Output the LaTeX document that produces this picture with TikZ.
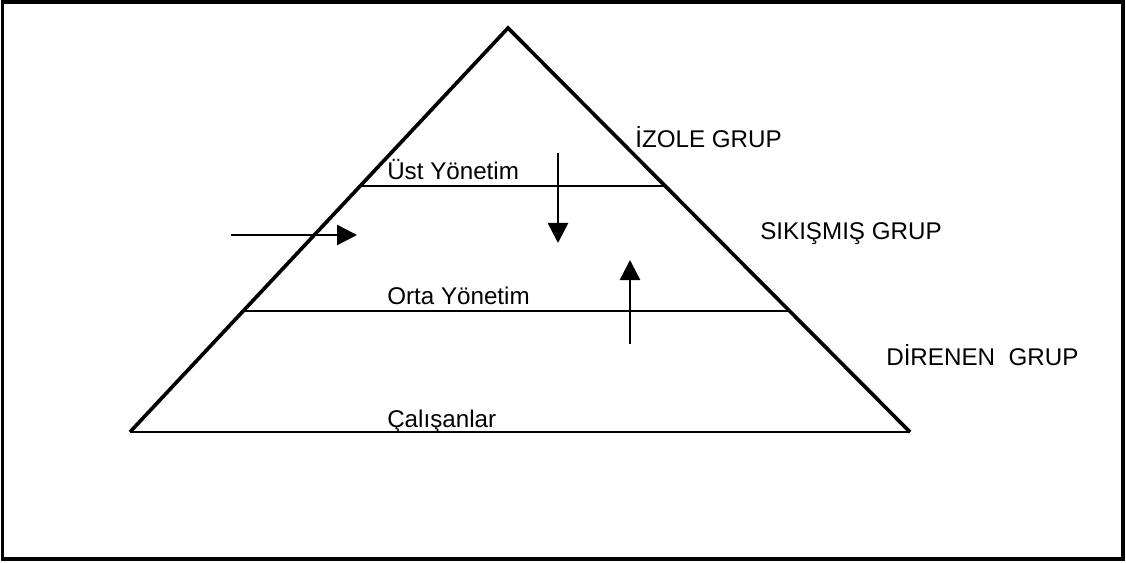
\documentclass[tikz,border=0pt]{standalone}
\usepackage{fontspec}
\setmainfont{Liberation Sans}
\usepackage{tikz}
\usetikzlibrary{calc,arrows.meta}
\tikzset{
  side/.style={line width=2.6pt,black},
  level/.style={line width=1.8pt,black},
  ar/.style={-{Triangle[length=5mm,width=5mm]},line width=1.8pt,black},
  lbl/.style={anchor=base west,inner sep=0pt,font=\fontsize{17.2}{20}\selectfont}
}
\begin{document}
\begin{tikzpicture}
\useasboundingbox (0,0) rectangle (28.15,14.05);
\draw[line width=2.6pt] (0.06,0.08) rectangle (28.08,14.0);
\coordinate (T) at (12.7,13.35); \coordinate (L) at (3.25,3.25); \coordinate (R) at (22.75,3.25);
\coordinate (UL) at ($(T)!0.391!(L)$); \coordinate (UR) at ($(T)!0.391!(R)$);
\coordinate (OL) at ($(T)!0.70!(L)$); \coordinate (OR) at ($(T)!0.70!(R)$);
\draw[side] (L)--(T)--(R);
\draw[level] (L)--(R);
\draw[level] (UL)--(UR);
\draw[level] (OL)--(OR);
% levels
\node[lbl] (ust) at (9.675,9.55) {Üst Yönetim};
\node[lbl] (orta) at (9.675,6.45) {Orta Yönetim};
\node[lbl] (calis) at (9.675,3.375) {Çalışanlar};
% groups
\node[lbl] (izole) at (15.875,10.35) {İZOLE GRUP};
\node[lbl] (sikis) at (19.0,8.05) {SIKIŞMIŞ GRUP};
\node[lbl] (diren) at (22.15,4.925) {DİRENEN\ \ GRUP};
% arrows
\coordinate (a1) at (5.775,8.175); \coordinate (a2) at (8.925,8.175);
\coordinate (d1) at (13.95,10.225); \coordinate (d2) at (13.95,7.975);
\coordinate (u1) at (15.75,5.45); \coordinate (u2) at (15.75,7.55);
\draw[ar] (a1)--(a2);
\draw[ar] (d1)--(d2);
\draw[ar] (u1)--(u2);
\end{tikzpicture}
\end{document}
